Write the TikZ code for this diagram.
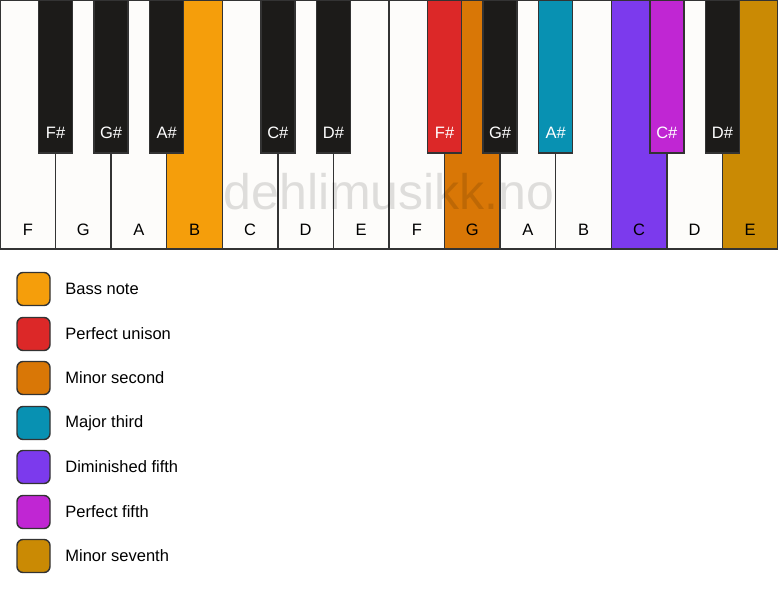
\documentclass[tikz,border=0pt]{standalone}
\usepackage{fontspec}
\setmainfont{Liberation Sans}
\usetikzlibrary{positioning}

\definecolor{ivory}{HTML}{FDFCFA}
\definecolor{keyblack}{HTML}{1C1B19}
\definecolor{edgegray}{HTML}{333333}
\definecolor{bassnote}{HTML}{F59E0B}
\definecolor{unison}{HTML}{DC2828}
\definecolor{minsecond}{HTML}{D97706}
\definecolor{majthird}{HTML}{0891B2}
\definecolor{dimfifth}{HTML}{7C3AED}
\definecolor{perffifth}{HTML}{C026D3}
\definecolor{minseventh}{HTML}{CA8A04}

\begin{document}
\begin{tikzpicture}[x=1pt,y=-1pt,line width=1.4pt,font=\fontsize{16.5}{18}\selectfont]

  \tikzstyle{whitekey}=[draw=edgegray]
  \tikzstyle{blackkey}=[draw=edgegray]
  \tikzstyle{legbox}=[draw=edgegray,rounded corners=6pt,minimum size=33pt,inner sep=0pt]
  \tikzstyle{legtext}=[inner sep=0pt,anchor=west]

  \useasboundingbox (0,0) rectangle (778,594);
  \fill[white] (0,0) rectangle (778,594);

  % white keys
  \foreach \n/\c [count=\i from 0] in {F/ivory,G/ivory,A/ivory,B/bassnote,C/ivory,D/ivory,E/ivory,
                                       F/ivory,G/minsecond,A/ivory,B/ivory,C/dimfifth,D/ivory,E/minseventh}
  {
    \draw[whitekey,fill=\c] (\i*55.57,0) rectangle ++(55.57,249);
    \node (white\i) at (\i*55.57+27.8,230) {\n};
  }

  \node[text=black,text opacity=0.12,font=\fontsize{50}{50}\selectfont] (mark) at (389,192) {dehlimusikk.no};

  % black keys
  \foreach \n/\k/\c in {F/1/keyblack,G/2/keyblack,A/3/keyblack,C/5/keyblack,D/6/keyblack,
                        F/8/unison,G/9/keyblack,A/10/majthird,C/12/perffifth,D/13/keyblack}
  {
    \draw[blackkey,fill=\c] (\k*55.57-17,0) rectangle ++(34,153);
    \node[text=white] (black\k) at (\k*55.57,133) {\n\#};
  }

  \node[legbox,fill=bassnote]   (bass)    at (33.5,289) {};
  \node[legbox,fill=unison]     (unis)    at (33.5,334) {};
  \node[legbox,fill=minsecond]  (second)  at (33.5,378) {};
  \node[legbox,fill=majthird]   (third)   at (33.5,423) {};
  \node[legbox,fill=dimfifth]   (dim)     at (33.5,467) {};
  \node[legbox,fill=perffifth]  (fifth)   at (33.5,512) {};
  \node[legbox,fill=minseventh] (seventh) at (33.5,556) {};

  \node[legtext,right=14pt of bass]    (bassl)    {Bass note};
  \node[legtext,right=14pt of unis]    (unisl)    {Perfect unison};
  \node[legtext,right=14pt of second]  (secondl)  {Minor second};
  \node[legtext,right=14pt of third]   (thirdl)   {Major third};
  \node[legtext,right=14pt of dim]     (diml)     {Diminished fifth};
  \node[legtext,right=14pt of fifth]   (fifthl)   {Perfect fifth};
  \node[legtext,right=14pt of seventh] (seventhl) {Minor seventh};
\end{tikzpicture}
\end{document}
